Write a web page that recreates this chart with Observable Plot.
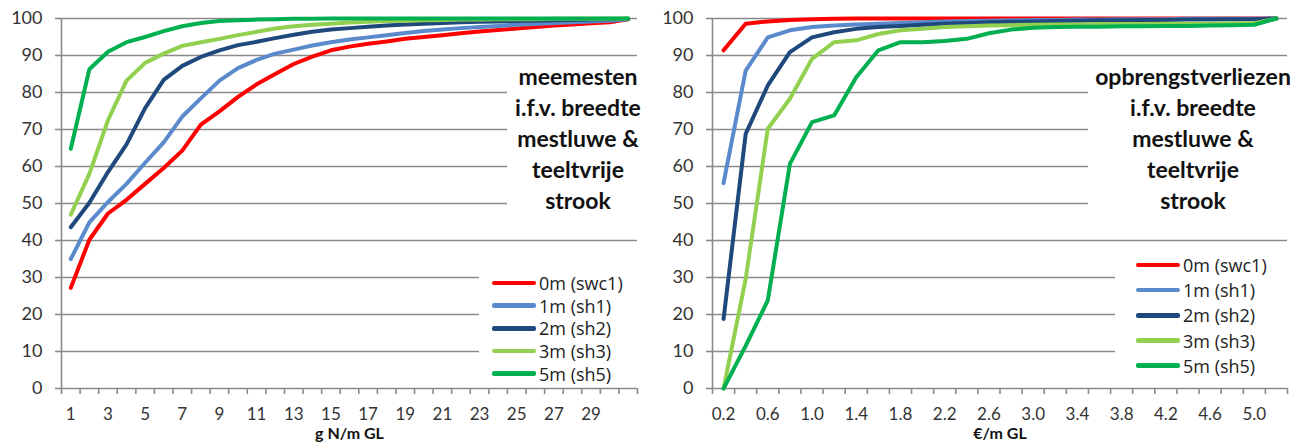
<!DOCTYPE html>
<html><head><meta charset="utf-8">
<script src="https://cdn.jsdelivr.net/npm/d3@7"></script>
<script src="https://cdn.jsdelivr.net/npm/@observablehq/plot@0.6"></script>
<style>
body{margin:0;background:#fff;font-family:Lato,"Open Sans",sans-serif;}
#wrap{position:relative;width:1309px;height:446px;overflow:hidden;}
.panel{position:absolute;top:0;}
.note{position:absolute;background:#fff;font-weight:bold;font-size:23px;line-height:31px;color:#111;box-sizing:border-box;}
.note .txt{position:absolute;top:0;text-align:center;white-space:nowrap;transform:translateX(-50%);}
.legend{position:absolute;background:#fff;font-family:"Open Sans",sans-serif;font-size:18px;color:#222;box-sizing:border-box;}
.legend .row{display:flex;align-items:center;white-space:nowrap;}
.legend .sw{width:44px;height:4.5px;border-radius:2px;margin-right:3px;flex:none;}
</style>
</head><body>
<div id="wrap"></div>
<script>
// ---------- data ----------
const seriesNames = ["0m (swc1)", "1m (sh1)", "2m (sh2)", "3m (sh3)", "5m (sh5)"];
const seriesColors = ["#FF0000", "#5A8ACB", "#1F497D", "#92D050", "#00B050"];

// left panel: meemesten, x = g N/m GL (categories 1..31)
const leftCats = d3.range(1, 32).map(String);
const leftTickLabels = ["1","","3","","5","","7","","9","","11","","13","","15","","17","","19","","21","","23","","25","","27","","29","",""];
const left0m = [27.2, 40.2, 47.3, 51, 55.3, 59.6, 64.3, 71.3, 74.9, 78.8, 82.2, 85, 87.7, 89.7, 91.4, 92.4, 93.2, 93.8, 94.5, 95, 95.5, 96, 96.5, 96.9, 97.3, 97.7, 98.1, 98.4, 98.7, 99, 99.8];
const left1m = [35, 44.9, 50.4, 55.3, 61, 66.5, 73.5, 78.4, 83.2, 86.6, 88.8, 90.5, 91.6, 92.7, 93.6, 94.3, 94.9, 95.5, 96.1, 96.6, 97, 97.4, 97.7, 98, 98.3, 98.5, 98.8, 99, 99.2, 99.4, 99.8];
const left2m = [43.6, 50.2, 58.5, 66, 75.8, 83.4, 87.2, 89.6, 91.4, 92.8, 93.7, 94.7, 95.6, 96.4, 97, 97.4, 97.8, 98.1, 98.4, 98.6, 98.8, 99, 99.1, 99.2, 99.3, 99.4, 99.5, 99.6, 99.7, 99.8, 99.9];
const left3m = [47, 58, 72.5, 83.2, 88, 90.5, 92.6, 93.6, 94.5, 95.5, 96.4, 97.3, 97.9, 98.3, 98.6, 98.9, 99.1, 99.3, 99.4, 99.5, 99.6, 99.7, 99.7, 99.8, 99.8, 99.8, 99.9, 99.9, 99.9, 99.9, 100];
const left5m = [64.8, 86.3, 91, 93.6, 95, 96.6, 97.9, 98.8, 99.3, 99.5, 99.7, 99.8, 99.9, 99.9, 100, 100, 100, 100, 100, 100, 100, 100, 100, 100, 100, 100, 100, 100, 100, 100, 100];

// right panel: opbrengstverliezen, x = €/m GL (categories 0.2..5.2)
const rightCats = d3.range(1, 27).map(i => (i * 0.2).toFixed(1));
const rightTickLabels = ["0.2","","0.6","","1.0","","1.4","","1.8","","2.2","","2.6","","3.0","","3.4","","3.8","","4.2","","4.6","","5.0",""];
const right0m = [91.4, 98.6, 99.2, 99.6, 99.8, 99.9, 100, 100, 100, 100, 100, 100, 100, 100, 100, 100, 100, 100, 100, 100, 100, 100, 100, 100, 100, 100];
const right1m = [55.5, 85.9, 94.9, 96.8, 97.7, 98.1, 98.4, 98.6, 98.8, 99, 99.2, 99.3, 99.4, 99.5, 99.6, 99.6, 99.7, 99.7, 99.8, 99.8, 99.8, 99.9, 99.9, 99.9, 99.9, 100];
const right2m = [18.8, 68.8, 81.9, 90.9, 94.9, 96.3, 97.2, 97.7, 98, 98.3, 98.6, 98.8, 99, 99.1, 99.2, 99.3, 99.4, 99.5, 99.5, 99.6, 99.6, 99.7, 99.7, 99.8, 99.8, 100];
const right3m = [0, 29.6, 70.2, 78.3, 89.1, 93.6, 94.1, 95.8, 96.8, 97.2, 97.7, 97.9, 98.1, 98.2, 98.3, 98.4, 98.4, 98.5, 98.5, 98.5, 98.6, 98.6, 98.6, 98.7, 98.7, 100];
const right5m = [0, 11.5, 23.8, 60.7, 72, 73.8, 84.1, 91.4, 93.6, 93.6, 93.9, 94.5, 96, 97, 97.5, 97.7, 97.8, 97.8, 97.9, 97.9, 98, 98, 98.1, 98.2, 98.3, 100];

const yTicks = d3.range(0, 101, 10);
const leftTitle = "g N/m GL";
const rightTitle = "€/m GL";
const leftNote = ["meemesten", "i.f.v. breedte", "mestluwe &", "teeltvrije", "strook"];
const rightNote = ["opbrengstverliezen", "i.f.v. breedte", "mestluwe &", "teeltvrije", "strook"];

// ---------- drawing ----------
function makePanel(cats, tickLabels, valuesList, title, cfg) {
  const n = cats.length;
  const data = valuesList.flatMap((vals, s) => vals.map((v, i) => ({i, v, name: seriesNames[s]})));
  const bounds = d3.range(n + 1).map(i => i - 0.5);
  const centers = d3.range(n).filter(i => tickLabels[i] !== "");
  return Plot.plot({
    width: cfg.width, height: 446,
    marginLeft: cfg.marginLeft, marginRight: cfg.marginRight, marginTop: 18, marginBottom: 58,
    x: {domain: [-0.5, n - 0.5], label: null},
    y: {domain: [0, 100], label: null},
    color: {domain: seriesNames, range: seriesColors},
    style: {fontFamily: "Lato, 'Open Sans', sans-serif", fontSize: "18px", color: "#333", background: "#fff", overflow: "visible"},
    marks: [
      Plot.gridY({ticks: yTicks.slice(1), stroke: "#8a8a8a", strokeOpacity: 1, strokeWidth: 1.6}),
      Plot.ruleY([0], {stroke: "#8a8a8a", strokeWidth: 1.6}),
      Plot.ruleX([-0.5], {stroke: "#8a8a8a", strokeWidth: 1.6}),
      Plot.axisY({ticks: yTicks, tickSize: 6, tickPadding: 13, stroke: "#8a8a8a", strokeWidth: 1.6, fill: "#333", label: null}),
      Plot.axisX({ticks: bounds, tickSize: 6, tickFormat: () => "", stroke: "#8a8a8a", strokeWidth: 1.6, label: null}),
      Plot.axisX({ticks: centers, tickSize: 0, tickPadding: 19, tickFormat: i => tickLabels[i], fill: "#333", fontSize: 17, label: null}),
      Plot.line(data, {x: "i", y: "v", z: "name", stroke: "name", strokeWidth: 4, strokeLinecap: "round", strokeLinejoin: "round"}),
      Plot.text([title], {text: d => d, frameAnchor: "bottom", dy: 50, fontSize: 16, fontWeight: "bold", fill: "#111"})
    ]
  });
}

const wrap = document.getElementById("wrap");

const leftSvg = makePanel(leftCats, leftTickLabels, [left0m, left1m, left2m, left3m, left5m], leftTitle,
  {width: 654, marginLeft: 61, marginRight: 17});
const rightSvg = makePanel(rightCats, rightTickLabels, [right0m, right1m, right2m, right3m, right5m], rightTitle,
  {width: 655, marginLeft: 58, marginRight: 22});

function place(el, left) {
  const d = document.createElement("div");
  d.className = "panel";
  d.style.left = left + "px";
  d.appendChild(el);
  wrap.appendChild(d);
}
place(leftSvg, 0);
place(rightSvg, 654);

function note(lines, left, width, center) {
  const d = document.createElement("div");
  d.className = "note";
  Object.assign(d.style, {left: left + "px", top: "61px", width: width + "px", height: (lines.length * 31 + 2) + "px"});
  const t = document.createElement("div");
  t.className = "txt";
  t.style.left = (center - left) + "px";
  t.innerHTML = lines.map(l => `<div>${l}</div>`).join("");
  d.appendChild(t);
  wrap.appendChild(d);
}
note(leftNote, 507, 130, 578);
note(rightNote, 1088, 199, 1193);

function legend(left, top, width, height, padLeft, padTop, rowH) {
  const d = document.createElement("div");
  d.className = "legend";
  Object.assign(d.style, {left: left + "px", top: top + "px", width: width + "px", height: height + "px", paddingLeft: padLeft + "px", paddingTop: padTop + "px"});
  seriesNames.forEach((name, k) => {
    const r = document.createElement("div");
    r.className = "row";
    r.style.height = rowH + "px";
    r.innerHTML = `<div class="sw" style="background:${seriesColors[k]}"></div><span>${name}</span>`;
    d.appendChild(r);
  });
  wrap.appendChild(d);
}
legend(479, 258, 158, 128, 13, 13.6, 22.7);
legend(1115, 250, 172, 136, 21, 2.4, 25.2);
</script>
</body></html>
